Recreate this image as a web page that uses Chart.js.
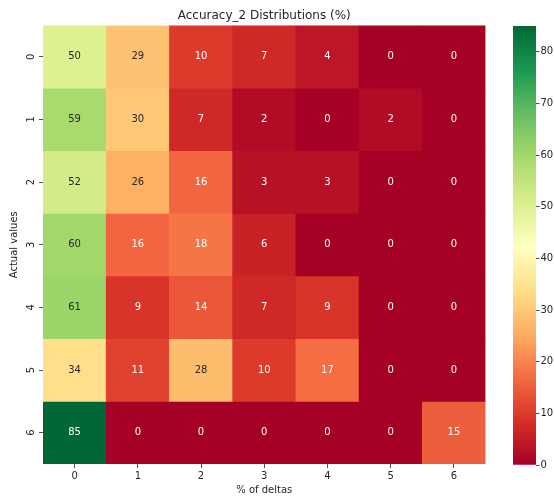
<!DOCTYPE html>
<html>
<head>
<meta charset="utf-8">
<script src="https://cdn.jsdelivr.net/npm/chart.js@4.4.1/dist/chart.umd.min.js"></script>
<style>
  html, body { margin: 0; padding: 0; background: #ffffff; }
  #wrap { position: relative; width: 554px; height: 497px; }
  #heat { position: absolute; left: 0; top: 0; }
  #cbar { position: absolute; left: 500px; top: 0; }
</style>
</head>
<body>
<div id="wrap">
  <canvas id="heat" width="554" height="497"></canvas>
  <canvas id="cbar" width="54" height="497"></canvas>
</div>
<script>
// Column categories (% of deltas) and row categories (actual values)
const deltaLabels = ['0', '1', '2', '3', '4', '5', '6'];
const actualLabels = ['0', '1', '2', '3', '4', '5', '6'];

// Percentages per actual value, one array per row
const actual0 = [50, 29, 10, 7, 4, 0, 0];
const actual1 = [59, 30, 7, 2, 0, 2, 0];
const actual2 = [52, 26, 16, 3, 3, 0, 0];
const actual3 = [60, 16, 18, 6, 0, 0, 0];
const actual4 = [61, 9, 14, 7, 9, 0, 0];
const actual5 = [34, 11, 28, 10, 17, 0, 0];
const actual6 = [85, 0, 0, 0, 0, 0, 15];

// Colour bar tick values
const colorbarTicks = [0, 10, 20, 30, 40, 50, 60, 70, 80];

const rows = [actual0, actual1, actual2, actual3, actual4, actual5, actual6];
const vmin = 0;
const vmax = Math.max(...rows.flat());

// Red-Yellow-Green diverging palette, evenly spaced stops
const palette = ['#a50026', '#d73027', '#f46d43', '#fdae61', '#fee08b', '#ffffbf',
                 '#d9ef8b', '#a6d96a', '#66bd63', '#1a9850', '#006837'];

function hexToRgb(h) {
  return [parseInt(h.slice(1, 3), 16), parseInt(h.slice(3, 5), 16), parseInt(h.slice(5, 7), 16)];
}
const paletteRgb = palette.map(hexToRgb);

function colourAt(v) {
  let t = (v - vmin) / (vmax - vmin);
  t = Math.min(1, Math.max(0, t));
  const pos = t * (paletteRgb.length - 1);
  const i = Math.min(paletteRgb.length - 2, Math.floor(pos));
  const f = pos - i;
  const a = paletteRgb[i], b = paletteRgb[i + 1];
  return [0, 1, 2].map(k => Math.round(a[k] + (b[k] - a[k]) * f));
}
function cssColour(rgb) { return 'rgb(' + rgb.join(',') + ')'; }

// Dark text on light cells, white text on dark cells
function luminance(rgb) {
  const lin = rgb.map(c => {
    c /= 255;
    return c <= 0.03928 ? c / 12.92 : Math.pow((c + 0.055) / 1.055, 2.4);
  });
  return 0.2126 * lin[0] + 0.7152 * lin[1] + 0.0722 * lin[2];
}
function textColour(v) {
  return luminance(colourAt(v)) > 0.408 ? '#262626' : '#ffffff';
}

const FONT = 'DejaVu Sans';
const INK = '#262626';

// Writes each cell's percentage at the middle of its bar segment
const cellText = {
  id: 'cellText',
  afterDatasetsDraw(chart) {
    const ctx = chart.ctx;
    ctx.save();
    ctx.font = '10px "' + FONT + '"';
    ctx.textAlign = 'center';
    ctx.textBaseline = 'middle';
    rows.forEach((vals, r) => {
      const meta = chart.getDatasetMeta(r);
      meta.data.forEach((bar, c) => {
        const v = vals[c];
        ctx.fillStyle = textColour(v);
        ctx.fillText(String(v), bar.x, (bar.y + bar.base) / 2);
      });
    });
    ctx.restore();
  }
};

// Heatmap: each row is a stacked dataset of unit-height cells
new Chart(document.getElementById('heat'), {
  type: 'bar',
  data: {
    labels: deltaLabels,
    datasets: rows.map((vals, r) => ({
      label: actualLabels[r],
      data: vals.map(() => 1),
      backgroundColor: vals.map(v => cssColour(colourAt(v))),
      borderWidth: 0,
      barPercentage: 1,
      categoryPercentage: 1
    }))
  },
  options: {
    responsive: false,
    animation: false,
    layout: { padding: { left: 0, right: 68.5, top: 0, bottom: 0 } },
    plugins: {
      legend: { display: false },
      tooltip: { enabled: false },
      title: {
        display: true,
        text: 'Accuracy_2 Distributions (%)',
        fullSize: false,
        color: INK,
        font: { family: FONT, size: 12, weight: 'normal', lineHeight: 1.2 },
        padding: { top: 9, bottom: 2 }
      }
    },
    scales: {
      x: {
        stacked: true,
        grid: { offset: false, drawOnChartArea: false, drawTicks: true, tickLength: 4, tickColor: INK, tickWidth: 0.8 },
        border: { display: false },
        ticks: { color: INK, font: { family: FONT, size: 10 }, padding: 2, maxRotation: 0 },
        title: {
          display: true, text: '% of deltas', color: INK,
          font: { family: FONT, size: 10, lineHeight: 1.2 },
          padding: { top: 0, bottom: 1 }
        },
        afterFit: s => { s.height = 33; }
      },
      y: {
        stacked: true,
        reverse: true,
        min: 0,
        max: actualLabels.length,
        afterBuildTicks: s => { s.ticks = actualLabels.map((_, i) => ({ value: i + 0.5 })); },
        grid: { drawOnChartArea: false, drawTicks: true, tickLength: 4, tickColor: INK, tickWidth: 0.8 },
        border: { display: false },
        ticks: {
          callback: (v, i) => actualLabels[i],
          color: INK, font: { family: FONT, size: 10 },
          minRotation: 90, maxRotation: 90, crossAlign: 'center', padding: 4
        },
        title: {
          display: true, text: 'Actual values', color: INK,
          font: { family: FONT, size: 10, lineHeight: 1.2 },
          padding: { top: 8, bottom: 0 }
        },
        afterFit: s => { s.width = 43; }
      }
    }
  },
  plugins: [cellText]
});

// Colour bar: a single bar from vmin to vmax filled with the palette gradient
function barGradient(chart) {
  const y = chart.scales.y;
  if (!y || !chart.chartArea) return palette[0];
  const g = chart.ctx.createLinearGradient(0, y.getPixelForValue(vmin), 0, y.getPixelForValue(vmax));
  palette.forEach((c, i) => g.addColorStop(i / (palette.length - 1), c));
  return g;
}

new Chart(document.getElementById('cbar'), {
  type: 'bar',
  data: {
    labels: [''],
    datasets: [{
      data: [vmax],
      backgroundColor: ctx => barGradient(ctx.chart),
      borderWidth: 0,
      barPercentage: 1,
      categoryPercentage: 1
    }]
  },
  options: {
    responsive: false,
    animation: false,
    layout: { padding: { left: 13, right: 0, top: 26, bottom: 32 } },
    plugins: { legend: { display: false }, tooltip: { enabled: false } },
    scales: {
      x: { display: false },
      y: {
        position: 'right',
        min: vmin,
        max: vmax,
        afterBuildTicks: s => { s.ticks = colorbarTicks.map(v => ({ value: v })); },
        grid: { drawOnChartArea: false, drawTicks: true, tickLength: 3.5, tickColor: INK, tickWidth: 0.8 },
        border: { display: false },
        ticks: { color: INK, font: { family: FONT, size: 10 }, padding: 1 },
        afterFit: s => { s.width = 18; }
      }
    }
  }
});
</script>
</body>
</html>
